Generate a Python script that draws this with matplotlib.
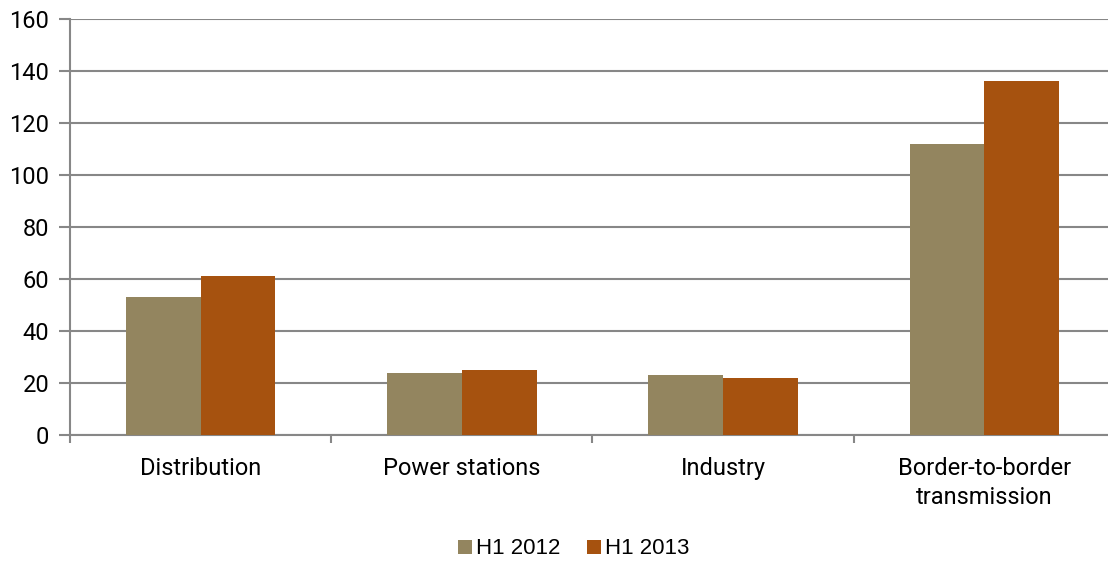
import matplotlib
matplotlib.use('Agg')

import matplotlib.pyplot as plt
import numpy as np

categories = ['Distribution', 'Power stations', 'Industry', 'Border-to-border\ntransmission']
h1_2012 = [53, 24, 23, 112]
h1_2013 = [61, 25, 22, 136]
series_names = ['H1 2012', 'H1 2013']
yticks = [0, 20, 40, 60, 80, 100, 120, 140, 160]

grey = '#878787'
col12 = '#93855F'
col13 = '#A6520F'

fig = plt.figure(figsize=(11.08, 5.61), dpi=100)
ax = fig.add_axes([70/1108, 126/561, 1045/1108, 416/561])

x = np.arange(len(categories))
w = 0.286
ax.bar(x - w/2, h1_2012, w, color=col12, label=series_names[0], zorder=3)
ax.bar(x + w/2, h1_2013, w, color=col13, label=series_names[1], zorder=3)

ax.set_xlim(-0.5, len(categories) - 0.5)
ax.set_ylim(0, 160)
ax.set_yticks(yticks)
ax.yaxis.grid(True, color=grey, linewidth=1.5, zorder=0)
ax.set_axisbelow(True)

ax.set_xticks(x)
ax.set_xticklabels(categories, fontsize=17, family='Roboto', linespacing=1.3)
ax.set_xticks(np.arange(-0.5, len(categories), 1), minor=True)
ax.tick_params(axis='x', which='major', length=0, pad=16)
ax.tick_params(axis='x', which='minor', length=6, width=1.5, color=grey)
ax.tick_params(axis='y', length=8, width=1.5, color=grey, pad=7, labelsize=17)
for lab in ax.get_yticklabels():
    lab.set_family('Roboto')

for s in ['top', 'right']:
    ax.spines[s].set_visible(False)
for s in ['left', 'bottom']:
    ax.spines[s].set_color(grey)
    ax.spines[s].set_linewidth(1.5)

leg = fig.legend(loc='center', bbox_to_anchor=(0.518, 12/561), ncol=2, frameon=False,
                 prop={'family': 'Liberation Sans', 'size': 16},
                 handlelength=0.6, handleheight=0.6, handletextpad=0.2, columnspacing=1.2,
                 borderpad=0)

plt.savefig('out.png', dpi=100)
